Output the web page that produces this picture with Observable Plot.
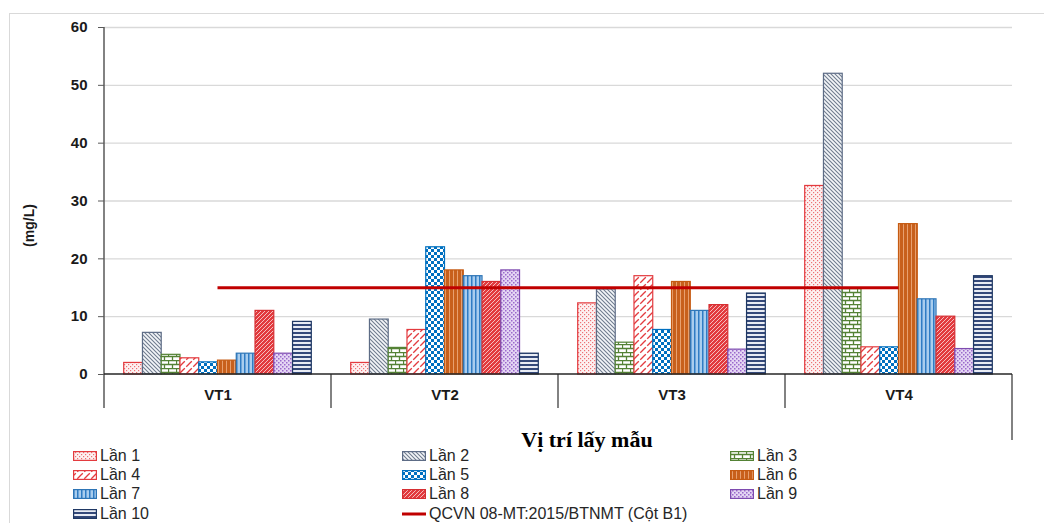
<!DOCTYPE html>
<html>
<head>
<meta charset="utf-8">
<script src="https://cdn.jsdelivr.net/npm/d3@7"></script>
<script src="https://cdn.jsdelivr.net/npm/@observablehq/plot@0.6"></script>
<style>
  html, body { margin: 0; padding: 0; background: #fff; overflow: hidden; }
  #wrap { position: relative; width: 1044px; height: 523px; font-family: Arial, "Liberation Sans", sans-serif; color: #262626; }
  #box { position: absolute; left: 9px; top: 13px; width: 1100px; height: 600px; border: 1px solid #d9d9d9; box-sizing: border-box; }
  #chart { position: absolute; left: 0; top: 0; }
  #legend { position: absolute; left: 0; top: 0; width: 1044px; height: 523px; pointer-events: none; }
  .item { position: absolute; display: flex; align-items: center; height: 18px; font-size: 16px; color: #262626; white-space: nowrap; }
  .item svg { margin-right: 3px; flex: none; }
</style>
</head>
<body>
<div id="wrap">
  <div id="box"></div>
  <div id="chart"></div>
  <div id="legend"></div>
</div>
<script>
// Sampling sites and rounds
const locations = ["VT1", "VT2", "VT3", "VT4"];
const seriesNames = ["Lần 1", "Lần 2", "Lần 3", "Lần 4", "Lần 5", "Lần 6", "Lần 7", "Lần 8", "Lần 9", "Lần 10"];

// Concentration (mg/L) of each round at VT1, VT2, VT3, VT4
const lan1 = [2.0, 2.0, 12.3, 32.6];
const lan2 = [7.2, 9.5, 14.7, 52.0];
const lan3 = [3.4, 4.6, 5.5, 14.8];
const lan4 = [2.8, 7.7, 17.0, 4.7];
const lan5 = [2.1, 22.0, 7.7, 4.7];
const lan6 = [2.4, 18.0, 16.0, 26.0];
const lan7 = [3.6, 17.0, 11.0, 13.0];
const lan8 = [11.0, 16.0, 12.0, 10.0];
const lan9 = [3.6, 18.0, 4.3, 4.4];
const lan10 = [9.1, 3.6, 14.0, 17.0];

// Regulation limit
const limitValue = 15;
const limitName = "QCVN 08-MT:2015/BTNMT (Cột B1)";

const yTicks = [0, 10, 20, 30, 40, 50, 60];
const yTitle = "(mg/L)";
const xTitle = "Vị trí lấy mẫu";

const seriesValues = [lan1, lan2, lan3, lan4, lan5, lan6, lan7, lan8, lan9, lan10];

// Border colour of each round's bars
const strokes = ["#e33b3f", "#5d6c86", "#548235", "#e33b3f", "#0070c0", "#c55a11", "#2e75b6", "#d62f33", "#7e4bb0", "#1f3864"];

// ---- hatch patterns shared by bars and legend swatches ----
const defs = d3.select("body").append("svg")
  .attr("width", 0).attr("height", 0)
  .style("position", "absolute").style("left", "0").style("top", "0")
  .append("defs");

function pattern(id, w, h, bg, build) {
  const p = defs.append("pattern").attr("id", id)
    .attr("patternUnits", "userSpaceOnUse").attr("width", w).attr("height", h);
  p.append("rect").attr("width", w).attr("height", h).attr("fill", bg);
  build(p);
}
// 1: fine red dots
pattern("pat0", 4, 4, "#fdf1f1", p => {
  p.append("rect").attr("x", 0).attr("y", 0).attr("width", 1.2).attr("height", 1.2).attr("fill", "#e8474a").attr("opacity", 0.75);
  p.append("rect").attr("x", 2).attr("y", 2).attr("width", 1.2).attr("height", 1.2).attr("fill", "#e8474a").attr("opacity", 0.75);
});
// 2: dense downward diagonal, blue-grey
pattern("pat1", 4, 4, "#f4f6f9", p => {
  p.append("path").attr("d", "M-1,-1L5,5M-1,3L1,5M3,-1L5,1").attr("stroke", "#44546a").attr("stroke-width", 1.1).attr("opacity", 0.75);
});
// 3: green brick
pattern("pat2", 8, 8, "#fff", p => {
  p.append("path").attr("d", "M0,0.5H8M0,4.5H8M0.5,0.5V4.5M4.5,4.5V8.5").attr("stroke", "#548235").attr("stroke-width", 1.3);
});
// 4: dashed upward diagonal, red
pattern("pat3", 7, 7, "#fff", p => {
  p.append("path").attr("d", "M0,7L7,0").attr("stroke", "#e33b3f").attr("stroke-width", 1.3).attr("stroke-dasharray", "4 2");
  p.append("path").attr("d", "M-1,1L1,-1M6,8L8,6").attr("stroke", "#e33b3f").attr("stroke-width", 1.3);
});
// 5: blue checkerboard
pattern("pat4", 6, 6, "#0070c0", p => {
  p.append("rect").attr("x", 0).attr("y", 0).attr("width", 3).attr("height", 3).attr("fill", "#fff");
  p.append("rect").attr("x", 3).attr("y", 3).attr("width", 3).attr("height", 3).attr("fill", "#fff");
});
// 6: orange with light vertical streaks
pattern("pat5", 4, 4, "#c8601c", p => {
  p.append("rect").attr("x", 2).attr("y", 0).attr("width", 1).attr("height", 4).attr("fill", "#f6bb93").attr("opacity", 0.7);
});
// 7: light blue with vertical lines
pattern("pat6", 4, 4, "#a9cdee", p => {
  p.append("rect").attr("x", 0).attr("y", 0).attr("width", 1.5).attr("height", 4).attr("fill", "#2f7cc4");
});
// 8: red with fine white upward diagonal
pattern("pat7", 4, 4, "#e23a3e", p => {
  p.append("path").attr("d", "M0,4L4,0M-1,1L1,-1M3,5L5,3").attr("stroke", "#fff").attr("stroke-width", 0.9).attr("opacity", 0.75);
});
// 9: lilac dotted grid
pattern("pat8", 4, 4, "#e4d6f3", p => {
  p.append("rect").attr("x", 0).attr("y", 0).attr("width", 1.5).attr("height", 1.5).attr("fill", "#9a68cc");
  p.append("rect").attr("x", 2).attr("y", 2).attr("width", 1.5).attr("height", 1.5).attr("fill", "#9a68cc");
});
// 10: navy horizontal stripes
pattern("pat9", 4, 4, "#e8ecf4", p => {
  p.append("rect").attr("x", 0).attr("y", 0).attr("width", 4).attr("height", 2).attr("fill", "#34497a");
});

const fills = seriesNames.map((_, i) => `url(#pat${i})`);

// Long table: one row per site and round
const rows = locations.flatMap((loc, li) =>
  seriesNames.map((s, si) => ({loc, s, v: seriesValues[si][li], fill: fills[si], stroke: strokes[si]}))
);

// Frame geometry
const W = 1044, H = 455, mL = 104, mR = 32, mT = 27, mB = 81;
const facetWidth = (W - mL - mR) / locations.length;

// The limit line runs from the middle of the first site to the middle of the last
const limitRows = locations.map(loc => ({loc, v: limitValue}));
const first = locations[0], last = locations[locations.length - 1];
const limitColor = "#c00000";

const chart = Plot.plot({
  width: W,
  height: H,
  marginLeft: mL,
  marginRight: mR,
  marginTop: mT,
  marginBottom: mB,
  style: {fontFamily: "Arial, 'Liberation Sans', sans-serif", color: "#1a1a1a", background: "transparent", overflow: "visible"},
  fx: {domain: locations, padding: 0, round: false},
  x: {domain: seriesNames, paddingInner: 0, paddingOuter: 1.05, round: false, axis: null},
  y: {domain: [0, 60]},
  color: {type: "identity"},
  marks: [
    Plot.gridY(yTicks.filter(t => t > 0), {stroke: "#d9d9d9", strokeOpacity: 1, strokeWidth: 1.3}),
    Plot.axisY(yTicks, {tickSize: 6, tickPadding: 11, fontSize: 15, fontWeight: "bold", stroke: "#595959", label: null}),
    Plot.axisFx({anchor: "bottom", tickSize: 0, tickPadding: 15, fontSize: 15, fontWeight: "bold", label: null}),
    Plot.barY(rows, {fx: "loc", x: "s", y: "v", fill: "fill", stroke: "stroke", strokeWidth: 1.2}),
    Plot.ruleY(limitRows.filter(d => d.loc === first), {fx: "loc", y: "v", stroke: limitColor, strokeWidth: 3, insetLeft: facetWidth / 2}),
    Plot.ruleY(limitRows.filter(d => d.loc !== first && d.loc !== last), {fx: "loc", y: "v", stroke: limitColor, strokeWidth: 3}),
    Plot.ruleY(limitRows.filter(d => d.loc === last), {fx: "loc", y: "v", stroke: limitColor, strokeWidth: 3, insetRight: facetWidth / 2})
  ]
});
document.getElementById("chart").append(chart);

// Axis lines, category dividers and titles drawn from the plot's own scales
const svg = d3.select(chart);
const fx = chart.scale("fx");
const y = chart.scale("y");
const y0 = y.apply(0);
const yTop = y.apply(yTicks[yTicks.length - 1]);
const left = fx.apply(first);
const right = fx.apply(last) + fx.bandwidth;
const g = svg.append("g").attr("stroke", "#595959").attr("stroke-width", 1.5);
g.append("line").attr("x1", left).attr("x2", left).attr("y1", yTop).attr("y2", y0 + 34);
locations.slice(1).forEach(loc => {
  const x = fx.apply(loc);
  g.append("line").attr("x1", x).attr("x2", x).attr("y1", y0).attr("y2", y0 + 34);
});
g.append("line").attr("x1", right).attr("x2", right).attr("y1", y0).attr("y2", y0 + 66);
g.append("line").attr("x1", left).attr("x2", right).attr("y1", y0).attr("y2", y0).attr("stroke", "#262626");

svg.append("text")
  .attr("transform", `translate(34,${(yTop + y0) / 2 + 25}) rotate(-90)`)
  .attr("text-anchor", "middle")
  .attr("font-size", 14).attr("font-weight", "bold").attr("fill", "#1a1a1a")
  .text(yTitle);

svg.append("text")
  .attr("x", 587).attr("y", y0 + 73)
  .attr("text-anchor", "middle")
  .attr("font-family", "'Liberation Serif', 'Times New Roman', serif")
  .attr("font-size", 22).attr("font-weight", "bold").attr("fill", "#000")
  .text(xTitle);

// Legend: three columns, read row by row
const legend = d3.select("#legend");
const colX = [73, 402, 730];
const rowY = [456, 475, 494, 514];
const entries = seriesNames.map((name, i) => ({name, fill: fills[i], stroke: strokes[i]}))
  .concat([{name: limitName, line: limitColor}]);
entries.forEach((e, i) => {
  const item = legend.append("div").attr("class", "item")
    .style("left", colX[i % 3] + "px")
    .style("top", (rowY[Math.floor(i / 3)] - 9) + "px");
  const sw = item.append("svg").attr("width", 24).attr("height", 12);
  if (e.line) {
    sw.append("line").attr("x1", 0).attr("x2", 24).attr("y1", 6).attr("y2", 6).attr("stroke", e.line).attr("stroke-width", 3);
  } else {
    sw.append("rect").attr("x", 0.6).attr("y", 1.6).attr("width", 22.8).attr("height", 8.8)
      .attr("fill", e.fill).attr("stroke", e.stroke).attr("stroke-width", 1.2);
  }
  item.append("span").text(e.name);
});
</script>
</body>
</html>
